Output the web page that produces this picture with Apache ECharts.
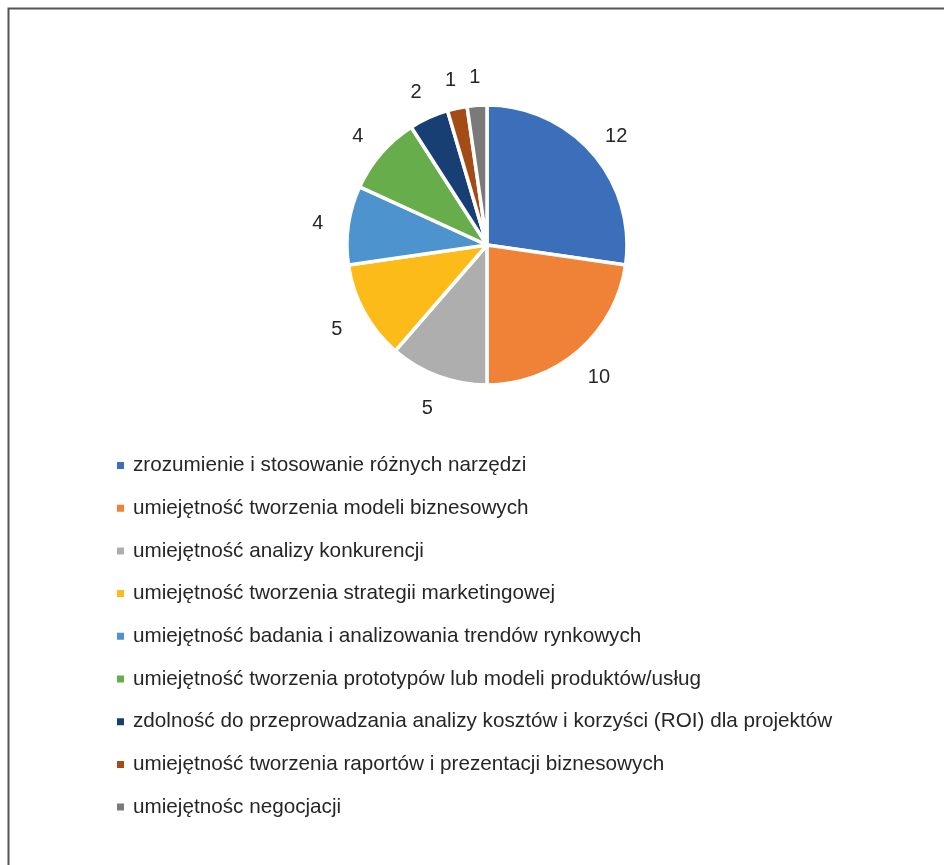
<!DOCTYPE html>
<html><head><meta charset="utf-8">
<script src="https://cdn.jsdelivr.net/npm/echarts@6/dist/echarts.min.js"></script>
<style>html,body{margin:0;padding:0;background:#fff}#c{width:944px;height:865px}</style>
</head><body><div id="c"></div>
<script>
const categories = [
  'zrozumienie i stosowanie różnych narzędzi',
  'umiejętność tworzenia modeli biznesowych',
  'umiejętność analizy konkurencji',
  'umiejętność tworzenia strategii marketingowej',
  'umiejętność badania i analizowania trendów rynkowych',
  'umiejętność tworzenia prototypów lub modeli produktów/usług',
  'zdolność do przeprowadzania analizy kosztów i korzyści (ROI) dla projektów',
  'umiejętność tworzenia raportów i prezentacji biznesowych',
  'umiejętnośc negocjacji'
];
const values = [12, 10, 5, 5, 4, 4, 2, 1, 1];
const colors = ['#3c6fb9', '#f08237', '#aeaeae', '#fdbb1a', '#4d94cf', '#67ad4b', '#173f73', '#a44c15', '#7a7a7a'];

const chart = echarts.init(document.getElementById('c'));
chart.setOption({
  animation: false,
  color: colors,
  graphic: [{
    type: 'rect', shape: {x: 8.5, y: 8.5, width: 1000, height: 1000},
    style: {fill: 'none', stroke: '#555', lineWidth: 2}
  }],
  legend: {
    orient: 'vertical', left: 110, top: 450,
    data: categories,
    icon: 'rect', itemWidth: 9, itemHeight: 9, itemGap: 21.7,
    textStyle: {fontFamily: 'Liberation Sans', fontSize: 20.7, color: '#262626', lineHeight: 20, padding: [0, 0, 0, 3]},
    selectedMode: false
  },
  series: [{
    type: 'pie', center: [487, 245], radius: [0, 140],
    startAngle: 90, clockwise: true, avoidLabelOverlap: false,
    itemStyle: {borderColor: '#fff', borderWidth: 3.5},
    label: {show: false},
    labelLine: {show: false},
    data: categories.map((n, i) => ({name: n, value: values[i]}))
  }, {
    type: 'pie', center: [487, 245], radius: [163, 173],
    startAngle: 90, clockwise: true, avoidLabelOverlap: false, silent: true,
    itemStyle: {color: 'rgba(0,0,0,0)', borderWidth: 0},
    label: {show: true, position: 'inside', formatter: '{c}', offset: [0, 3], fontFamily: 'Liberation Sans', fontSize: 20, color: '#262626'},
    labelLine: {show: false},
    emphasis: {disabled: true},
    data: categories.map((n, i) => ({name: n, value: values[i]}))
  }]
});
</script></body></html>
